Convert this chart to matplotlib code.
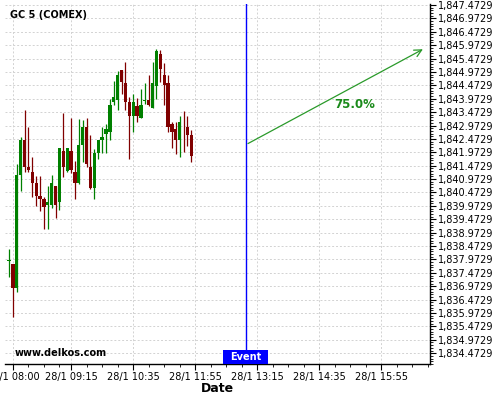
import numpy as np
import pandas as pd
import matplotlib
matplotlib.use("Agg")
import matplotlib.pyplot as plt
import matplotlib.transforms as mtransforms
from matplotlib.patches import Rectangle

# 5 min candles, GC 5 (COMEX), 28/1
times = pd.date_range("2021-01-28 07:55", periods=48, freq="5min")
opens = [1837.93, 1837.80, 1836.92, 1841.14, 1842.43, 1841.44, 1841.24, 1840.83, 1840.34, 1840.23,
         1840.01, 1840.01, 1840.72, 1840.13, 1842.02, 1841.28, 1842.02, 1841.24, 1840.84, 1842.25,
         1842.93, 1841.44, 1840.65, 1841.96, 1842.43, 1842.65, 1842.74, 1843.86, 1843.93, 1845.05,
         1844.55, 1843.84, 1843.34, 1843.70, 1843.27, 1843.90, 1843.93, 1843.64, 1844.46, 1845.64,
         1844.86, 1844.55, 1843.03, 1842.83, 1842.43, 1843.06, 1842.91, 1842.62]
highs = [1838.38, 1837.80, 1841.53, 1842.55, 1843.55, 1842.91, 1841.81, 1841.09, 1841.09, 1840.32,
         1840.70, 1841.11, 1840.72, 1842.14, 1843.43, 1842.14, 1843.24, 1841.64, 1843.23, 1843.18,
         1843.24, 1842.62, 1842.11, 1842.43, 1842.91, 1843.03, 1843.95, 1844.64, 1845.02, 1845.05,
         1845.33, 1844.05, 1844.14, 1844.01, 1844.33, 1844.55, 1844.86, 1845.33, 1845.83, 1845.81,
         1845.31, 1844.86, 1843.12, 1843.12, 1843.33, 1843.53, 1843.31, 1842.79]
lows = [1837.32, 1835.81, 1836.77, 1840.53, 1841.24, 1841.22, 1840.32, 1839.97, 1839.80, 1839.10,
        1839.10, 1839.88, 1839.51, 1839.82, 1841.05, 1841.23, 1841.20, 1840.22, 1840.78, 1841.62,
        1841.43, 1840.61, 1840.22, 1841.71, 1841.94, 1841.94, 1842.43, 1843.74, 1843.55, 1844.14,
        1843.55, 1841.71, 1842.72, 1843.12, 1843.24, 1843.78, 1843.70, 1843.61, 1843.98, 1844.60,
        1843.74, 1842.74, 1842.12, 1841.91, 1841.81, 1841.97, 1842.21, 1841.61]
closes = [1837.95, 1836.92, 1841.13, 1842.43, 1841.44, 1841.31, 1840.84, 1840.34, 1840.23, 1839.94,
          1840.12, 1840.82, 1840.02, 1842.14, 1841.44, 1842.14, 1841.31, 1840.84, 1842.25, 1842.93,
          1841.54, 1840.65, 1841.95, 1842.43, 1842.56, 1842.83, 1843.73, 1844.03, 1844.86, 1844.59,
          1843.86, 1843.34, 1843.84, 1843.34, 1843.73, 1843.91, 1843.74, 1844.57, 1845.77, 1845.07,
          1844.47, 1842.93, 1842.74, 1842.43, 1843.12, 1843.05, 1842.62, 1841.84]

tick_times = ["08:00", "09:15", "10:35", "11:55", "13:15", "14:35", "15:55"]
event_time = "13:00"
arrow_start = ("13:00", 1842.25)
arrow_end = ("16:52", 1845.87)
pct_label = "75.0%"
pct_pos = ("15:21", 1843.76)
y_ticks = np.arange(1834.4729, 1847.48, 0.5)

def mins(s):
    h, m = s.split(":")
    return int(h) * 60 + int(m)

x = np.array([t.hour * 60 + t.minute for t in times])
o = np.array(opens); h = np.array(highs); l = np.array(lows); c = np.array(closes)
up = c >= o
cols = np.where(up, "#008000", "#800000")

fig = plt.figure(figsize=(5, 4), dpi=100)
ax = fig.add_axes([0.01, 0.09, 0.85, 0.90])

# grid
gridkw = dict(color="#d2d2d2", lw=0.7, ls=(0, (2, 2)), zorder=0)
for yt in y_ticks:
    ax.axhline(yt, **gridkw)
for tt in tick_times:
    ax.axvline(mins(tt), **gridkw)

# candles
ax.vlines(x, l, h, colors=cols, lw=0.9, zorder=2)
body = np.maximum(np.abs(c - o), 0.03)
ax.bar(x, body, bottom=np.minimum(o, c), width=4.2, color=cols, zorder=3, linewidth=0)

# event line and label
ev = mins(event_time)
ax.axvline(ev, color="blue", lw=1, zorder=4)
trans = mtransforms.blended_transform_factory(ax.transData, ax.transAxes)
ax.add_patch(Rectangle((ev - 28.5, 0), 57, 0.039, transform=trans, facecolor="blue",
                       edgecolor="none", zorder=5, clip_on=False))
ax.text(ev, 0.0195, "Event", transform=trans, ha="center", va="center", color="white",
        fontsize=7, fontweight="bold", zorder=6)

# projection arrow
ax.annotate("", xy=(mins(arrow_end[0]), arrow_end[1]),
            xytext=(mins(arrow_start[0]), arrow_start[1]),
            arrowprops=dict(arrowstyle="->", color="#2a9a2a", lw=0.9, mutation_scale=13),
            zorder=5)
ax.text(mins(pct_pos[0]), pct_pos[1], pct_label, color="#1a8a1a", fontsize=8.5,
        fontweight="bold", ha="center", va="center")

ax.set_xlim(469.7, 1018)
ax.set_ylim(1834.07, 1847.51)

ax.set_xticks([mins(t) for t in tick_times])
ax.set_xticklabels(["28/1 " + t for t in tick_times], fontsize=7)
minor_x = []
for a, b in zip(tick_times[:-1], tick_times[1:]):
    minor_x += list(range(mins(a) + 20, mins(b), 20))
minor_x += list(range(mins(tick_times[-1]) + 20, 1018, 20))
ax.set_xticks(minor_x, minor=True)

ax.yaxis.tick_right()
ax.set_yticks(y_ticks)
ax.set_yticklabels(["{:,.4f}".format(v) for v in y_ticks], fontsize=7)
ax.set_yticks(np.arange(1834.0729, 1847.5, 0.1), minor=True)
ax.tick_params(axis="both", which="major", length=4, width=0.8, pad=1.5)
ax.tick_params(axis="both", which="minor", length=2, width=0.6)
ax.tick_params(axis="y", which="both", left=False)

for s in ["left", "top"]:
    ax.spines[s].set_visible(False)
ax.spines["right"].set_linewidth(1)
ax.spines["bottom"].set_linewidth(1)

fig.text(10 / 500, 1 - 15 / 400, "GC 5 (COMEX)", fontsize=7, fontweight="bold",
         va="center", ha="left")
fig.text(15 / 500, 1 - 353 / 400, "www.delkos.com", fontsize=7, fontweight="bold",
         va="center", ha="left")
fig.text(217 / 500, 1 - 389 / 400, "Date", fontsize=9, fontweight="bold",
         va="center", ha="center")

fig.savefig("out.png", dpi=100)
